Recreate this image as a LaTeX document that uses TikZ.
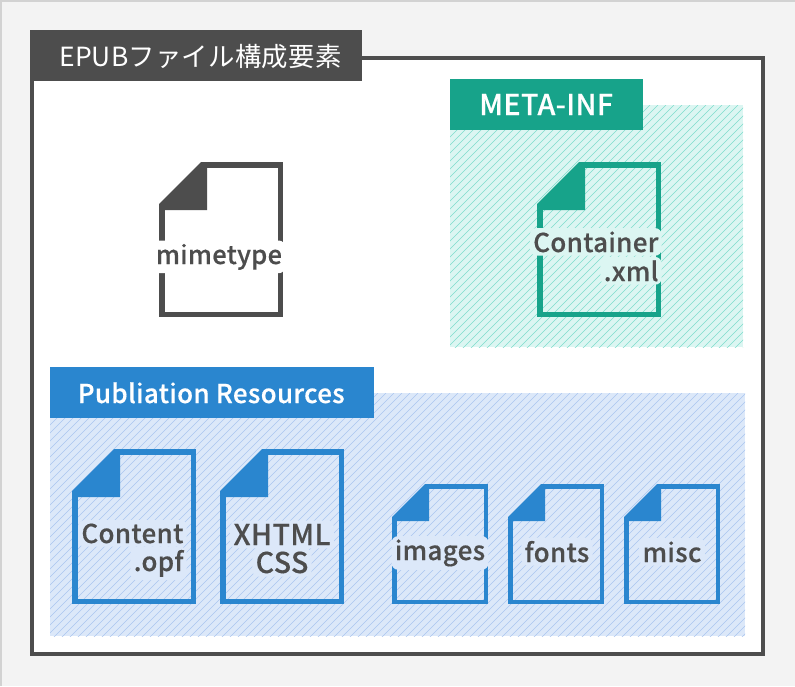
\documentclass[tikz,border=0pt]{standalone}
\usepackage{fontspec}
\setmainfont{Noto Sans CJK JP Medium}[LetterSpace=1.2,FakeBold=0.4]
\newfontfamily\titlefont{Noto Sans CJK JP}[LetterSpace=0.8]
\definecolor{pagebg}{HTML}{F3F3F3}
\definecolor{pageedge}{HTML}{D2D2D2}
\definecolor{ink}{HTML}{4D4D4D}
\definecolor{teal}{HTML}{17A38A}
\definecolor{tealbg}{HTML}{DCF6F2}
\definecolor{tealln}{HTML}{7EDDCD}
\definecolor{bluec}{HTML}{2A86CF}
\definecolor{bluebg}{HTML}{DCE8F9}
\definecolor{blueln}{HTML}{ABC5F0}
\tikzset{
  x=0.75pt,y=-0.75pt,
  headtext/.style={font=\fontsize{19.5pt}{19.5pt}\selectfont,text=white,inner sep=0pt,anchor=base west},
  doctext/.style={font=\fontsize{19.5pt}{19.5pt}\selectfont,text=ink,inner sep=2.5pt,rounded corners=5pt},
  capsize/.style={font=\fontsize{21.5pt}{21.5pt}\selectfont},
}
% \hatched{x1}{y1}{x2}{y2}{bg}{line}
\newcommand{\hatched}[6]{%
  \fill[#5] (#1,#2) rectangle (#3,#4);
  \begin{scope}
    \clip (#1,#2) rectangle (#3,#4);
    \foreach \k in {0,8,...,1100}{
      \draw[#6,line width=0.5pt] ({#1+\k},#2) -- ({#1+\k-400},{#2+400});
    }
  \end{scope}}
% \docicon{x1}{y1}{x2}{y2}{cut}{foldx}{foldy}{stroke}{colour}
\newcommand{\docicon}[9]{%
  \fill[#9] ({#1},{#2+#5}) -- ({#1+#5},#2) -- (#6,#2) -- (#6,#7) -- (#1,#7) -- cycle;
  \draw[#9,line width=#8*0.75pt,line join=miter]
    ({#1+#8/2},{#2+#5}) -- ({#1+#8/2},{#4-#8/2}) -- ({#3-#8/2},{#4-#8/2}) -- ({#3-#8/2},{#2+#8/2}) -- ({#1+#5},{#2+#8/2});}
\begin{document}
\begin{tikzpicture}
\useasboundingbox (0,0) rectangle (795,686);
\fill[pageedge] (0,0) rectangle (795,686);
\fill[pagebg] (2,2) rectangle (795,686);
\draw[ink,line width=3pt,fill=white] (32,58) rectangle (763,654);
\fill[ink] (30,30) rectangle (362,81);
\node[headtext,font=\titlefont\fontsize{19.8pt}{19.8pt}\selectfont] (title) at (59,66) {EPUBファイル構成要素};

\hatched{450}{105}{743}{347}{tealbg}{tealln}
\fill[teal] (450,79) rectangle (643,130);
\node[headtext,capsize] (meta) at (479,115) {META-INF};

\hatched{50}{393}{745}{636}{bluebg}{blueln}
\fill[bluec] (50,367) rectangle (374,418);
\node[headtext] (pub) at (77.5,403) {Publiation Resources};

\docicon{159}{162}{283}{317}{42}{207}{210}{5.5}{ink}
\docicon{537}{162}{661}{317}{42}{585}{210}{5.5}{teal}
\docicon{72}{449}{196}{604}{42}{120}{497}{5.5}{bluec}
\docicon{220}{449}{344}{604}{42}{268}{497}{5.5}{bluec}
\docicon{392}{484}{488}{604}{33}{429}{521}{4.5}{bluec}
\docicon{508}{484}{604}{604}{33}{545}{521}{4.5}{bluec}
\docicon{624}{484}{720}{604}{33}{661}{521}{4.5}{bluec}

\node[doctext,fill=white,anchor=base,font=\fontsize{19.1pt}{19.1pt}\selectfont] (mime) at (219,264) {mimetype};
\node[doctext,fill=tealbg,anchor=base east] (cont) at (662,252) {Container};
\node[doctext,fill=tealbg,anchor=base east] (xml) at (662,281) {.xml};
\node[doctext,fill=bluebg,anchor=base east] (opfa) at (187,543) {Content};
\node[doctext,fill=bluebg,anchor=base east] (opfb) at (187,571) {.opf};
\node[doctext,capsize,fill=bluebg,anchor=base] (xh) at (282,545) {XHTML};
\node[doctext,capsize,fill=bluebg,anchor=base] (css) at (282,573) {CSS};
\node[doctext,fill=bluebg,anchor=base] (img) at (440,560) {images};
\node[doctext,fill=bluebg,anchor=base] (fonts) at (557,562) {fonts};
\node[doctext,fill=bluebg,anchor=base] (misc) at (672,562) {misc};
\end{tikzpicture}
\end{document}
